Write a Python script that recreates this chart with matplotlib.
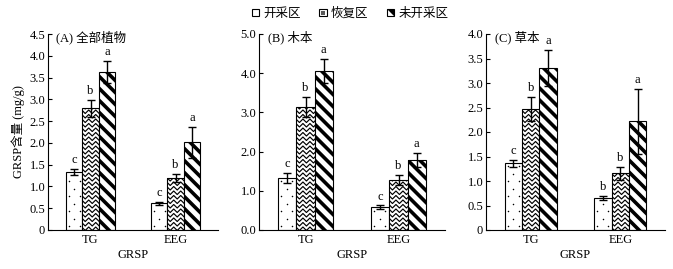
import numpy as np
import matplotlib
matplotlib.use("Agg")
import matplotlib.pyplot as plt
from matplotlib.patches import Rectangle, Polygon
from matplotlib.lines import Line2D
from matplotlib.transforms import IdentityTransform
from matplotlib.legend_handler import HandlerBase

plt.rcParams['font.family'] = ['Liberation Serif', 'Noto Sans CJK SC']

# datos
grupos = ['TG', 'EEG']
zonas = ['开采区', '恢复区', '未开采区']
paneles = ['(A) 全部植物', '(B) 木本', '(C) 草本']

# valores medios [zona][grupo]
medias_A = [[1.33, 0.61], [2.79, 1.20], [3.63, 2.01]]
medias_B = [[1.33, 0.58], [3.13, 1.28], [4.06, 1.79]]
medias_C = [[1.36, 0.65], [2.47, 1.16], [3.30, 2.22]]
err_A = [[0.07, 0.04], [0.19, 0.09], [0.25, 0.35]]
err_B = [[0.12, 0.05], [0.26, 0.12], [0.30, 0.18]]
err_C = [[0.07, 0.04], [0.24, 0.13], [0.37, 0.66]]
letras_A = [['c', 'c'], ['b', 'b'], ['a', 'a']]
letras_B = [['c', 'c'], ['b', 'b'], ['a', 'a']]
letras_C = [['c', 'b'], ['b', 'b'], ['a', 'a']]

ylims = [4.5, 5.0, 4.0]
yticks_A = [0, 0.5, 1.0, 1.5, 2.0, 2.5, 3.0, 3.5, 4.0, 4.5]
yticks_B = [0.0, 1.0, 2.0, 3.0, 4.0, 5.0]
yticks_C = [0, 0.5, 1.0, 1.5, 2.0, 2.5, 3.0, 3.5, 4.0]
ytick_labels_A = ['0', '0.5', '1.0', '1.5', '2.0', '2.5', '3.0', '3.5', '4.0', '4.5']
ytick_labels_B = ['0.0', '1.0', '2.0', '3.0', '4.0', '5.0']
ytick_labels_C = ['0', '0.5', '1.0', '1.5', '2.0', '2.5', '3.0', '3.5', '4.0']

estilos = ['puntos', 'zigzag', 'rayas']


# rellenos dibujados a mano en pixeles, recortados por la barra
def decorar(ax, bar, estilo):
    bb = bar.get_window_extent()
    x0, y0, x1, y1 = bb.x0, bb.y0, bb.x1, bb.y1
    lineas = []
    if estilo == 'puntos':
        xs, ys = [], []
        for r, yy in enumerate(np.arange(y0 + 4, y1, 7.5)):
            off = 3 if r % 2 == 0 else 8.5
            for xx in np.arange(x0 + off, x1 - 1, 11):
                xs.append(xx); ys.append(yy)
        lineas.append(Line2D(xs, ys, ls='none', marker='o', ms=1.1, mew=0,
                             color='black'))
    elif estilo == 'zigzag':
        for yy in np.arange(y0 - 5, y1 + 5, 4.5):
            xs = np.arange(x0 - 4, x1 + 5, 3.5)
            ys = yy + 3.5 * (np.arange(len(xs)) % 2)
            lineas.append(Line2D(xs, ys, color='black', lw=0.85))
    else:
        h = y1 - y0
        for c in np.arange(x0 - h - 12, x1 + 12, 12):
            lineas.append(Line2D([c, c + h + 20], [y1 + 10, y1 + 10 - (h + 20)],
                                 color='black', lw=2.6, solid_capstyle='butt'))
    for ln in lineas:
        ln.set_transform(IdentityTransform())
        ln.set_zorder(2.5)
        ax.add_artist(ln)
        ln.set_clip_path(bar)


class HandlerCuadro(HandlerBase):
    def create_artists(self, legend, orig_handle, xdescent, ydescent,
                       width, height, fontsize, trans):
        s = min(width, height)
        x0 = -xdescent + (width - s) / 2
        y0 = -ydescent + (height - s) / 2
        arts = [Rectangle((x0, y0), s, s, facecolor='white', edgecolor='black',
                          lw=0.8, transform=trans)]
        if orig_handle == 'zigzag':
            arts.append(Rectangle((x0 + s * 0.25, y0 + s * 0.25), s * 0.5, s * 0.5,
                                  facecolor='0.35', edgecolor='none', transform=trans))
        elif orig_handle == 'rayas':
            arts.append(Polygon([(x0, y0 + s), (x0 + s, y0 + s), (x0 + s, y0)],
                                closed=True, facecolor='black', edgecolor='none',
                                transform=trans))
        return arts


fig = plt.figure(figsize=(6.73, 2.69), dpi=100)
rects = [[48/673, 1-230/269, 170/673, 196/269],
         [259/673, 1-230/269, 186/673, 196/269],
         [486/673, 1-230/269, 179/673, 196/269]]

datos = [(medias_A, err_A, letras_A, yticks_A, ytick_labels_A),
         (medias_B, err_B, letras_B, yticks_B, ytick_labels_B),
         (medias_C, err_C, letras_C, yticks_C, ytick_labels_C)]

x = np.arange(len(grupos))
w = 0.195
for k, (medias, errs, letras, yt, ytl) in enumerate(datos):
    ax = fig.add_axes(rects[k])
    ax.set_xlim(-0.5, 1.5)
    ax.set_ylim(0, ylims[k])
    for i in range(3):
        pos = x + (i - 1) * w
        bars = ax.bar(pos, medias[i], w, color='white', edgecolor='black',
                      linewidth=0.8, zorder=2)
        for b in bars:
            decorar(ax, b, estilos[i])
        ax.errorbar(pos, medias[i], yerr=errs[i], fmt='none', ecolor='black',
                    elinewidth=1, capsize=3, capthick=1, zorder=3)
        for j in range(len(grupos)):
            ax.annotate(letras[i][j], (pos[j], medias[i][j] + errs[i][j]),
                        xytext=(0, 2), textcoords='offset points',
                        ha='center', va='bottom', fontsize=9)
    ax.set_xlim(-0.5, 1.5)
    ax.set_ylim(0, ylims[k])
    ax.set_yticks(yt)
    ax.set_yticklabels(ytl)
    ax.set_xticks(x)
    ax.set_xticklabels(grupos)
    ax.tick_params(axis='y', direction='in', length=3, labelsize=9, pad=2)
    ax.tick_params(axis='x', length=0, labelsize=9, pad=3)
    ax.spines['top'].set_visible(False)
    ax.spines['right'].set_visible(False)
    ax.set_xlabel('GRSP', fontsize=9, labelpad=2)
    ax.text(0.05, 0.985, paneles[k], transform=ax.transAxes, fontsize=9,
            ha='left', va='center')
    if k == 0:
        ax.set_ylabel('GRSP含量 (mg/g)', fontsize=9, labelpad=3)

fig.legend(estilos, zonas, handler_map={str: HandlerCuadro()},
           loc='center', bbox_to_anchor=(350/673, 1-14/269),
           ncol=3, frameon=False, fontsize=9, handlelength=0.6, handleheight=0.6,
           handletextpad=0.3, columnspacing=1.5)

fig.savefig('out.png', dpi=100)
